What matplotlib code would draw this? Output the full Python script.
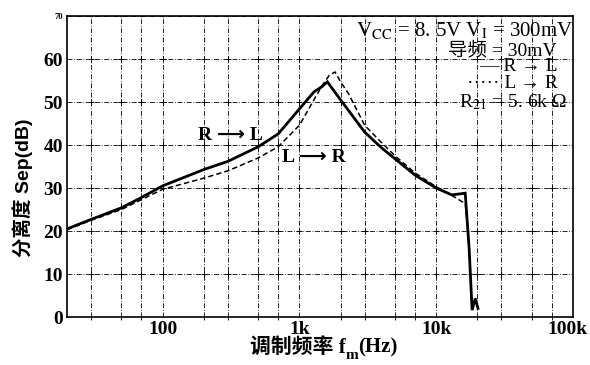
import numpy as np
import matplotlib
matplotlib.use("Agg")
import matplotlib.pyplot as plt
from matplotlib.transforms import ScaledTranslation

plt.rcParams['font.family'] = ['Liberation Serif', 'Noto Sans CJK SC', 'DejaVu Sans']
plt.rcParams['mathtext.fontset'] = 'stix'

# R -> L (solid)
f_rl = [20, 30, 50, 70, 100, 200, 300, 500, 700, 1000, 1280, 1450, 1600,
        2000, 3000, 4000, 5000, 7000, 10000, 13000, 16300, 17400, 18300,
        19300, 20200]
sep_rl = [20.5, 22.7, 25.4, 27.8, 30.5, 34.3, 36.2, 39.6, 42.6, 48.4, 52.4,
          53.5, 54.7, 50.5, 43.0, 39.3, 36.8, 33.0, 30.0, 28.4, 28.8, 16.0,
          1.6, 4.3, 2.0]

# L -> R (dashed)
f_lr = [20, 30, 50, 70, 100, 200, 300, 500, 700, 1000, 1450, 1650, 1820,
        2000, 2280, 3000, 4000, 5000, 7000, 10000, 13000, 15500, 16300,
        17400, 18300, 19300, 20200]
sep_lr = [20.3, 22.5, 25.0, 27.3, 29.7, 32.3, 34.0, 37.0, 39.6, 44.6, 53.6,
          56.2, 57.0, 54.7, 52.0, 44.6, 40.5, 37.5, 33.5, 30.3, 28.3, 26.8,
          26.5, 16.0, 1.6, 4.3, 2.0]

xticks = [100, 1000, 10000, 100000]
xlabels = ['100', '1k', '10k', '100k']
yticks = [0, 10, 20, 30, 40, 50, 60, 70]

fig = plt.figure(figsize=(5.9, 3.65), dpi=100)
ax = fig.add_axes([0.1136, 0.1315, 0.8576, 0.8245])

ax.plot(f_rl, sep_rl, color='black', lw=2.0, solid_joinstyle='miter')
ax.plot(f_lr, sep_lr, color='black', lw=1.1, ls=(0, (3.5, 2)))

ax.set_xscale('log')
ax.set_xlim(20, 100000)
ax.set_ylim(0, 70)

minor = [m * 10 ** d for d in range(1, 5) for m in (2, 3, 5, 7)]
minor = [v for v in minor if 20 < v < 100000]
ax.set_xticks(xticks)
ax.set_xticklabels(xlabels)
ax.set_xticks(minor, minor=True)
ax.set_xticklabels([], minor=True)
ax.set_yticks(yticks)
ax.set_yticklabels([str(v) for v in yticks])

gls = (0, (6, 2, 1, 2))
ax.grid(True, which='both', axis='x', color='black', lw=0.6, ls=gls)
ax.grid(True, which='major', axis='y', color='black', lw=0.6, ls=gls)
# '+' marks at grid crossings
gx = sorted([v for v in xticks + minor if v < 100000])
gxx, gyy = np.meshgrid(gx, yticks[1:-1])
ax.plot(gxx.ravel(), gyy.ravel(), '+', color='black', ms=4, mew=0.7)

ax.tick_params(length=0, pad=3)
for lab in ax.get_xticklabels() + ax.get_yticklabels():
    lab.set_fontweight('bold')
    lab.set_fontsize(14)
ax.get_yticklabels()[-1].set_fontsize(6)
lab100k = ax.get_xticklabels()[-1]
lab100k.set_transform(lab100k.get_transform() + ScaledTranslation(-6 / 100, 0, fig.dpi_scale_trans))
for sp in ax.spines.values():
    sp.set_linewidth(1.2)

ax.set_ylabel('分离度 Sep(dB)', fontsize=14, fontweight='bold',
              family=['Liberation Sans', 'Noto Sans CJK SC'])
ax.yaxis.set_label_coords(-0.068, 0.43)

# x label: 调制频率 f_m(Hz), built from pieces so the CJK glyphs are kept
xl1 = fig.text(250 / 590, 0.033, '调制频率 f', fontsize=15, fontweight='bold',
               ha='left', va='baseline')
xl2 = ax.annotate('m', xy=(1, 0.12), xycoords=xl1, fontsize=11, fontweight='bold',
                  ha='left', va='center', annotation_clip=False)
ax.annotate('(Hz)', xy=(1, 0), xycoords=(xl2, xl1), fontsize=15, fontweight='bold',
            ha='left', va='bottom', annotation_clip=False)

akw = dict(fontsize=14, fontweight='bold', ha='center', va='center')
ax.text(311, 42.3, 'R ⟶ L', **akw)
ax.text(1270, 37.2, 'L ⟶ R', **akw)

tkw = dict(transform=ax.transAxes, ha='right', va='center', fontsize=14)
ax.text(1.0, 0.953, '$\\mathrm{V_{CC}}$ = 8. 5V V$_\\mathrm{I}$ = 300mV',
        transform=ax.transAxes, ha='right', va='center', fontsize=15)
ax.text(0.968, 0.887, '导频 = 30mV', **tkw)
ax.text(0.970, 0.831, '— R → L', **tkw)
ax.text(0.970, 0.777, '····· L → R', **tkw)
ax.text(0.988, 0.714, 'R$_{21}$ = 5. 6k Ω', **tkw)

fig.savefig('out.png', dpi=100)
